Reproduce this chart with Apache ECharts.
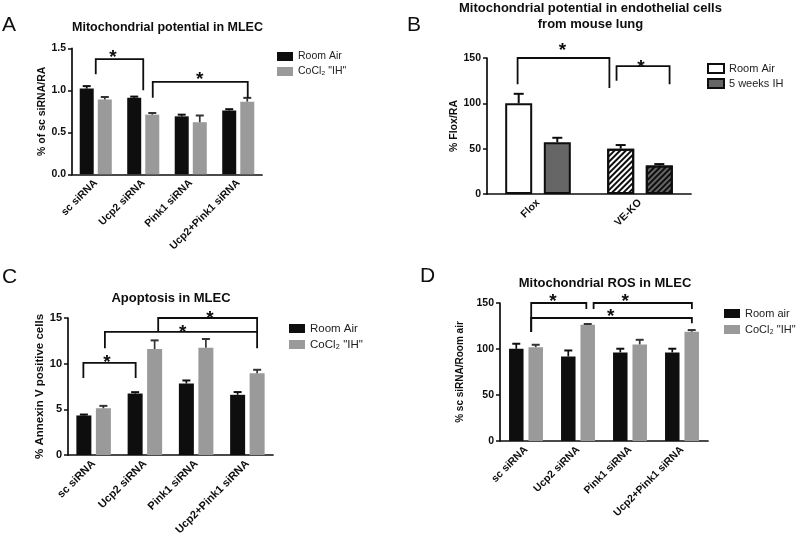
<!DOCTYPE html>
<html><head><meta charset="utf-8">
<script src="https://cdn.jsdelivr.net/npm/echarts@6/dist/echarts.min.js"></script>
<style>html,body{margin:0;padding:0;background:#fff}#c{width:800px;height:539px}</style>
</head><body><div id="c"></div>
<script>
const FONT = '"Liberation Sans", Arial, sans-serif';

// ---------- Panel A ----------
const catsA = ['sc siRNA', 'Ucp2 siRNA', 'Pink1 siRNA', 'Ucp2+Pink1 siRNA'];
const aRoomAir = [1.02, 0.91, 0.69, 0.76];
const aRoomAirErr = [0.03, 0.015, 0.02, 0.015];
const aCocl = [0.89, 0.71, 0.62, 0.865];
const aCoclErr = [0.03, 0.02, 0.08, 0.045];
const ticksA = [0, 0.5, 1.0, 1.5];
// [x1, y1, x2, y2, yTop, starX, starY]
const bracketsA = [[0, 1.19, 1, 1.0, 1.37, 0.36, 1.44], [1.2, 0.91, 3.2, 0.91, 1.10, 2.19, 1.17]];

// ---------- Panel B ----------
const catsB = ['Flox', 'VE-KO'];
const bRoomAir = [100, 50];
const bRoomAirErr = [10.5, 4];
const bIH = [57, 31.5];
const bIHErr = [5, 1.5];
const ticksB = [0, 50, 100, 150];
const bracketsB = [[-0.2, 121, 0.7, 117, 150, 0.24, 162], [0.77, 125, 1.29, 121, 141, 1.01, 144]];

// ---------- Panel C ----------
const catsC = ['sc siRNA', 'Ucp2 siRNA', 'Pink1 siRNA', 'Ucp2+Pink1 siRNA'];
const cRoomAir = [4.33, 6.73, 7.83, 6.59];
const cRoomAirErr = [0.1, 0.15, 0.33, 0.3];
const cCocl = [5.12, 11.6, 11.74, 8.96];
const cCoclErr = [0.26, 0.95, 0.96, 0.37];
const ticksC = [0, 5, 10, 15];
const bracketsC = [[-0.2, 8.43, 0.82, 8.43, 10.08, 0.26, 10.5], [0.22, 11.7, 3.19, 11.7, 13.47, 1.74, 13.8], [1.26, 13.47, 3.19, 13.47, 15.0, 2.27, 15.4]];

// ---------- Panel D ----------
const catsD = ['sc siRNA', 'Ucp2 siRNA', 'Pink1 siRNA', 'Ucp2+Pink1 siRNA'];
const dRoomAir = [100.2, 91.9, 96.3, 96.3];
const dRoomAirErr = [5.5, 6.5, 4, 4];
const dCocl = [102, 126.4, 105, 118.8];
const dCoclErr = [2.6, 0.8, 5, 1.8];
const ticksD = [0, 50, 100, 150];
const bracketsD = [[0.1, 118.5, 1.16, 143.5, 150, 0.52, 155.4], [1.3, 143.5, 3.19, 143.5, 150, 1.91, 155.4], [0.1, 118.5, 3.19, 128, 133.7, 1.63, 139]];

const BLACK = '#0e0e0e', GRAY = '#9a9a9a', DARK = '#666666';

function xAx(gi, cats, fs) {
  return {
    type: 'category', gridIndex: gi, data: cats,
    axisLine: { lineStyle: { color: BLACK, width: 1.7 } },
    axisTick: { alignWithLabel: true, length: 4, lineStyle: { color: BLACK, width: 1.5 } },
    axisLabel: { rotate: 45, interval: 0, margin: 7, color: BLACK, fontWeight: 'bold', fontSize: fs, fontFamily: FONT },
    splitLine: { show: false }
  };
}
function yAx(gi, ticks, name, gap, fs, nfs, dec) {
  return {
    type: 'value', gridIndex: gi, min: ticks[0], max: ticks[ticks.length - 1], interval: ticks[1] - ticks[0],
    name: name, nameLocation: 'middle', nameGap: gap,
    nameTextStyle: { color: BLACK, fontWeight: 'bold', fontSize: nfs, fontFamily: FONT },
    axisLine: { show: true, lineStyle: { color: BLACK, width: 1.7 } },
    axisTick: { show: true, length: 4, lineStyle: { color: BLACK, width: 1.5 } },
    axisLabel: { margin: 6, color: BLACK, fontWeight: 'bold', fontSize: fs, fontFamily: FONT, formatter: v => v.toFixed(dec) },
    splitLine: { show: false }
  };
}
function barS(name, gi, data, color, bw, gap, extra) {
  return Object.assign({
    name: name, type: 'bar', xAxisIndex: gi, yAxisIndex: gi, data: data,
    barWidth: bw, barGap: gap, itemStyle: { color: color }, silent: true, z: 2
  }, extra || {});
}
function errS(gi, vals, errs, side, bw, gap, capW, color, lw) {
  return {
    type: 'custom', xAxisIndex: gi, yAxisIndex: gi, z: 5, silent: true,
    data: vals.map((v, i) => [i, v, v + errs[i]]),
    renderItem: (params, api) => {
      const i = api.value(0);
      const base = api.coord([i, api.value(1)]);
      const top = api.coord([i, api.value(2)]);
      const x = base[0] + side * bw * (1 + gap) / 2;
      return {
        type: 'group', children: [
          { type: 'line', shape: { x1: x, y1: base[1], x2: x, y2: top[1] }, style: { stroke: color, lineWidth: lw || 1.7 } },
          { type: 'line', shape: { x1: x - capW / 2, y1: top[1], x2: x + capW / 2, y2: top[1] }, style: { stroke: color, lineWidth: 2 } }
        ]
      };
    }
  };
}
function brS(gi, list) {
  return {
    type: 'custom', xAxisIndex: gi, yAxisIndex: gi, z: 6, silent: true,
    data: list.map(b => [Math.round(b[0]), b[1]]),
    renderItem: (params, api) => {
      const b = list[params.dataIndex];
      const band = api.size([1, 0])[0];
      const px = (x, y) => { const k = Math.round(x); const p = api.coord([k, y]); return [p[0] + (x - k) * band, p[1]]; };
      const p1 = px(b[0], b[1]), p1t = px(b[0], b[4]), p2t = px(b[2], b[4]), p2 = px(b[2], b[3]);
      const s = px(b[5], b[6]);
      return {
        type: 'group', children: [
          { type: 'polyline', shape: { points: [p1, p1t, p2t, p2] }, style: { stroke: BLACK, lineWidth: 1.8, fill: null } },
          { type: 'text', x: s[0], y: s[1] + 4, style: { text: '*', font: 'bold 19px ' + FONT, fill: BLACK, align: 'center', verticalAlign: 'middle' } }
        ]
      };
    }
  };
}
function legendCfg(names, left, top, fs, gap) {
  return {
    data: names.map(n => ({ name: n, icon: 'rect' })), left: left, top: top, orient: 'vertical',
    itemWidth: 16, itemHeight: 9, itemGap: gap, padding: 0,
    selectedMode: false, formatter: n => n.slice(2),
    textStyle: { fontSize: fs, color: '#222', fontFamily: FONT }
  };
}
function txt(t, x, y, font, align) {
  return { type: 'text', x: x, y: y, silent: true, style: { text: t, font: font, fill: BLACK, align: align || 'center', verticalAlign: 'middle' } };
}

const decalStripe = (c) => ({ symbol: 'rect', symbolSize: 1, dashArrayX: [1, 0], dashArrayY: [1.3, 1.7], rotation: -Math.PI / 4, color: c });

const bw = { A: 14, B: 27, C: 15, D: 14.5 };
const gp = { A: 0.29, B: 0.43, C: 0.3, D: 0.34 };

const option = {
  animation: false,
  backgroundColor: '#fff',
  grid: [
    { left: 72, top: 48.3, width: 190, height: 126 },
    { left: 487, top: 58, width: 204, height: 136 },
    { left: 68, top: 318, width: 205, height: 137 },
    { left: 500, top: 303, width: 208, height: 138 }
  ],
  xAxis: [xAx(0, catsA, 10.5), xAx(1, catsB, 10.5), xAx(2, catsC, 11), xAx(3, catsD, 10.5)],
  yAxis: [
    yAx(0, ticksA, '% of sc siRNA/RA', 22, 10.5, 10.5, 1),
    yAx(1, ticksB, '% Flox/RA', 23, 10.5, 10.5, 0),
    yAx(2, ticksC, '% Annexin V positive cells', 18, 11, 11.5, 0),
    yAx(3, ticksD, '% sc siRNA/Room air', 35, 10.5, 10, 0)
  ],
  legend: [
    legendCfg(['A·Room Air', 'A·CoCl₂ "IH"'], 277, 51, 10.5, 4),
    legendCfg(['B·Room Air', 'B·5 weeks IH'], 707, 63, 11, 4),
    legendCfg(['C·Room Air', 'C·CoCl₂ "IH"'], 289, 322.5, 11.5, 4),
    legendCfg(['D·Room air', 'D·CoCl₂ "IH"'], 724, 308, 11, 5)
  ],
  series: [
    barS('A·Room Air', 0, aRoomAir, BLACK, bw.A, '29%'),
    barS('A·CoCl₂ "IH"', 0, aCocl, GRAY, bw.A, '29%'),
    errS(0, aRoomAir, aRoomAirErr, -1, bw.A, gp.A, 8, BLACK),
    errS(0, aCocl, aCoclErr, 1, bw.A, gp.A, 8, '#333'),
    brS(0, bracketsA),

    barS('B·Room Air', 1, bRoomAir.map((v, i) => i === 1 ? { value: v, itemStyle: { decal: decalStripe(BLACK) } } : v), '#ffffff', bw.B, '43%',
      { itemStyle: { color: '#ffffff', borderColor: BLACK, borderWidth: 2 } }),
    barS('B·5 weeks IH', 1, bIH.map((v, i) => i === 1 ? { value: v, itemStyle: { decal: decalStripe(BLACK) } } : v), DARK, bw.B, '43%',
      { itemStyle: { color: DARK, borderColor: BLACK, borderWidth: 2 } }),
    errS(1, bRoomAir, bRoomAirErr, -1, bw.B, gp.B, 10, BLACK, 2),
    errS(1, bIH, bIHErr, 1, bw.B, gp.B, 10, BLACK, 2),
    brS(1, bracketsB),

    barS('C·Room Air', 2, cRoomAir, BLACK, bw.C, '30%'),
    barS('C·CoCl₂ "IH"', 2, cCocl, GRAY, bw.C, '30%'),
    errS(2, cRoomAir, cRoomAirErr, -1, bw.C, gp.C, 8, BLACK),
    errS(2, cCocl, cCoclErr, 1, bw.C, gp.C, 8, '#333'),
    brS(2, bracketsC),

    barS('D·Room air', 3, dRoomAir, BLACK, bw.D, '34%'),
    barS('D·CoCl₂ "IH"', 3, dCocl, GRAY, bw.D, '34%'),
    errS(3, dRoomAir, dRoomAirErr, -1, bw.D, gp.D, 8, BLACK),
    errS(3, dCocl, dCoclErr, 1, bw.D, gp.D, 8, '#333'),
    brS(3, bracketsD)
  ],
  graphic: [
    txt('A', 2, 25, '21px ' + FONT, 'left'),
    txt('B', 407, 25, '21px ' + FONT, 'left'),
    txt('C', 2, 277, '21px ' + FONT, 'left'),
    txt('D', 420, 276, '21px ' + FONT, 'left'),
    txt('Mitochondrial potential in MLEC', 167.5, 28, 'bold 12.5px ' + FONT),
    txt('Mitochondrial potential in endothelial cells', 590.5, 8.5, 'bold 13px ' + FONT),
    txt('from mouse lung', 590.5, 24, 'bold 13px ' + FONT),
    txt('Apoptosis in MLEC', 171, 298, 'bold 13px ' + FONT),
    txt('Mitochondrial ROS in MLEC', 605, 283, 'bold 13px ' + FONT)
  ]
};
echarts.init(document.getElementById('c'), null, { renderer: 'canvas' }).setOption(option);
</script></body></html>
